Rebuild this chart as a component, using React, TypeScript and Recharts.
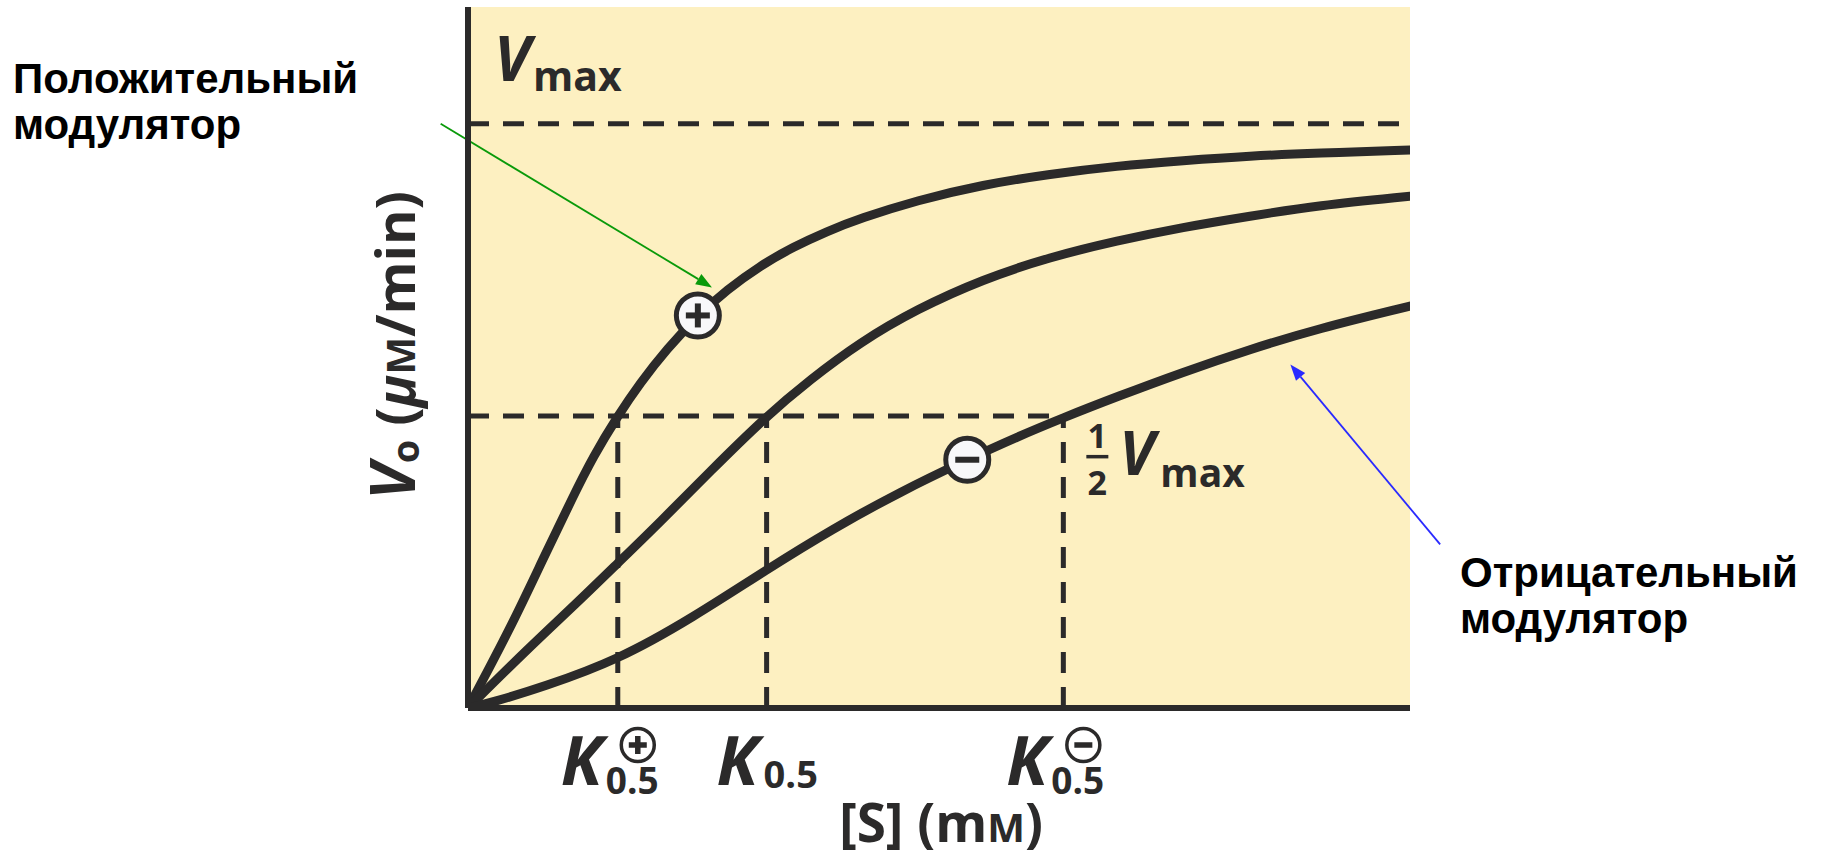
import React from 'react'
import {
  ComposedChart, Line, Scatter, XAxis, YAxis, CartesianGrid, ReferenceLine, ReferenceDot,
} from 'recharts'

// [S] in relative units (0..10), V0 as a fraction of Vmax
const sPositive = [0, 0.446, 0.796, 1.115, 1.327, 1.59, 1.826, 2.113, 2.442, 2.749, 3.1, 3.45, 3.811, 4.161, 4.766, 5.467, 6.178, 6.89, 7.59, 8.301, 9.013, 10]
const vPositive = [0, 0.135, 0.255, 0.362, 0.43, 0.5, 0.556, 0.615, 0.672, 0.716, 0.757, 0.789, 0.816, 0.838, 0.869, 0.896, 0.914, 0.928, 0.937, 0.945, 0.95, 0.955]

const sNone = [0, 0.626, 1.157, 1.59, 2.038, 2.569, 3.17, 3.631, 4.161, 4.766, 5.467, 6.178, 6.89, 7.59, 8.301, 9.013, 10]
const vNone = [0, 0.1, 0.18, 0.248, 0.318, 0.405, 0.5, 0.562, 0.626, 0.683, 0.734, 0.772, 0.8, 0.823, 0.842, 0.86, 0.876]

const sNegative = [0, 0.265, 0.796, 1.59, 2.389, 3.17, 3.875, 4.586, 5.297, 5.828, 6.32, 6.89, 7.59, 8.301, 9.013, 10]
const vNegative = [0, 0.01, 0.036, 0.082, 0.155, 0.237, 0.307, 0.37, 0.425, 0.464, 0.497, 0.533, 0.575, 0.614, 0.649, 0.688]

const kPlus = 1.59
const kHalf = 3.17
const kMinus = 6.32
const kTicks = [kPlus, kHalf, kMinus]

const vMax = 1
const halfVmax = 0.5

const plusMarker = [{ x: 2.44, y: 0.672 }]
const minusMarker = [{ x: 5.3, y: 0.425 }]

// annotation arrows, [start, end] in chart units
const greenArrow = [{ x: -0.29, y: 1.0 }, { x: 2.59, y: 0.72 }]
const blueArrow = [{ x: 10.32, y: 0.28 }, { x: 8.73, y: 0.588 }]

const toPoints = (s: number[], v: number[]) => s.map((x, i) => ({ x, y: v[i] }))

const INK = '#2b2a2a'
const PAPER = '#fdf0c1'
const FONT = "'Open Sans', 'DejaVu Sans', sans-serif"
const RU_FONT = "'Liberation Sans', Arial, sans-serif"

function Sign({ cx, cy, sign, arm, thick }: any) {
  return (
    <g>
      <rect x={cx - arm} y={cy - thick / 2} width={arm * 2} height={thick} fill={INK} />
      {sign === '+' && <rect x={cx - thick / 2} y={cy - arm} width={thick} height={arm * 2} fill={INK} />}
    </g>
  )
}

function CurveMarker(sign: string) {
  return (props: any) => (
    <g>
      <circle cx={props.cx} cy={props.cy} r={21.5} fill="#f8f8fa" stroke={INK} strokeWidth={5} />
      <Sign cx={props.cx} cy={props.cy} sign={sign} arm={12} thick={6} />
    </g>
  )
}

function KTick(props: any) {
  const { x, y, payload } = props
  const v = payload.value
  const mark = v === kPlus ? '+' : v === kMinus ? '-' : ''
  if (!mark) {
    return (
      <g fill={INK} fontFamily={FONT} fontWeight={700}>
        <text x={x - 50} y={y + 77} fontSize={68} fontStyle="italic">K</text>
        <text x={x - 3} y={y + 80} fontSize={38}>0.5</text>
      </g>
    )
  }
  return (
    <g fill={INK} fontFamily={FONT} fontWeight={700}>
      <text x={x - 57} y={y + 77} fontSize={68} fontStyle="italic">K</text>
      <text x={x - 12} y={y + 86} fontSize={37}>0.5</text>
      <circle cx={x + 20} cy={y + 37} r={16.5} fill="none" stroke={INK} strokeWidth={3.5} />
      <Sign cx={x + 20} cy={y + 37} sign={mark} arm={9} thick={5.5} />
    </g>
  )
}

function XTitle({ viewBox }: any) {
  const cx = viewBox.x + viewBox.width / 2 + 2
  return (
    <text x={cx} y={viewBox.y + 134} textAnchor="middle" fill={INK} fontFamily={FONT} fontWeight={700} fontSize={53}>
      [S] (m<tspan fontSize={40}>M</tspan>)
    </text>
  )
}

function YTitle({ viewBox }: any) {
  const bx = viewBox.x + viewBox.width - 53
  const cy = viewBox.y + viewBox.height / 2 - 12
  return (
    <text x={bx} y={cy} transform={`rotate(-90, ${bx}, ${cy})`} textAnchor="middle" fill={INK}
      fontFamily={FONT} fontWeight={700} fontSize={54}>
      <tspan fontStyle="italic" fontSize={62}>V</tspan>
      <tspan fontSize={38} dy={4}>o</tspan>
      <tspan dy={-4}> (</tspan>
      <tspan fontStyle="italic">μ</tspan>
      <tspan fontSize={40}>M</tspan>/min)
    </text>
  )
}

function VmaxLabel({ cx, cy }: any) {
  return (
    <g fill={INK} fontFamily={FONT} fontWeight={700}>
      <text x={cx + 26} y={cy - 43} fontSize={62} fontStyle="italic">V</text>
      <text x={cx + 65} y={cy - 33} fontSize={41}>max</text>
    </g>
  )
}

function HalfVmaxLabel({ cx, cy }: any) {
  return (
    <g fill={INK} fontFamily={FONT} fontWeight={700}>
      <text x={cx + 34} y={cy + 32} fontSize={34} textAnchor="middle">1</text>
      <rect x={cx + 23} y={cy + 39} width={22} height={3.5} />
      <text x={cx + 34} y={cy + 79} fontSize={34} textAnchor="middle">2</text>
      <text x={cx + 56} y={cy + 59} fontSize={60} fontStyle="italic">V</text>
      <text x={cx + 97} y={cy + 71} fontSize={39}>max</text>
    </g>
  )
}

function Arrow(props: any) {
  const { x1, y1, x2, y2, stroke } = props
  const a = Math.atan2(y2 - y1, x2 - x1)
  const len = 16
  const w = 6
  const bx = x2 - len * Math.cos(a)
  const by = y2 - len * Math.sin(a)
  const px = -Math.sin(a) * w
  const py = Math.cos(a) * w
  return (
    <g>
      <line x1={x1} y1={y1} x2={bx} y2={by} stroke={stroke} strokeWidth={1.8} />
      <polygon points={`${x2},${y2} ${bx + px},${by + py} ${bx - px},${by - py}`} fill={stroke} />
    </g>
  )
}

const dash = { stroke: INK, strokeWidth: 5, strokeDasharray: '21 14', ifOverflow: 'visible' as const }

export default function App() {
  return (
    <div style={{ position: 'absolute', left: 0, top: 0, width: 1821, height: 858, background: '#fff' }}>
      <ComposedChart width={1821} height={858} margin={{ top: 7, right: 411, bottom: 0, left: 0 }}>
        <CartesianGrid horizontal={false} vertical={false} fill={PAPER} />
        <XAxis type="number" dataKey="x" domain={[0, 10]} allowDataOverflow ticks={kTicks} interval={0}
          height={150} tickSize={0} tickMargin={0} tickLine={false} tick={<KTick />}
          axisLine={{ stroke: INK, strokeWidth: 6 }} label={<XTitle />} />
        <YAxis type="number" dataKey="y" domain={[0, 1.2]} allowDataOverflow width={468} tick={false}
          tickLine={false} axisLine={{ stroke: INK, strokeWidth: 6 }} label={<YTitle />} />

        <ReferenceLine y={vMax} {...dash} />
        <ReferenceLine segment={[{ x: 0, y: halfVmax }, { x: kMinus, y: halfVmax }]} {...dash} />
        <ReferenceLine segment={[{ x: kPlus, y: 0 }, { x: kPlus, y: halfVmax }]} {...dash} />
        <ReferenceLine segment={[{ x: kHalf, y: 0 }, { x: kHalf, y: halfVmax }]} {...dash} />
        <ReferenceLine segment={[{ x: kMinus, y: 0 }, { x: kMinus, y: halfVmax }]} {...dash} />

        <Line data={toPoints(sPositive, vPositive)} dataKey="y" type="basis" stroke={INK} strokeWidth={9}
          strokeLinecap="round" dot={false} activeDot={false} isAnimationActive={false} />
        <Line data={toPoints(sNone, vNone)} dataKey="y" type="basis" stroke={INK} strokeWidth={9}
          strokeLinecap="round" dot={false} activeDot={false} isAnimationActive={false} />
        <Line data={toPoints(sNegative, vNegative)} dataKey="y" type="basis" stroke={INK} strokeWidth={9}
          strokeLinecap="round" dot={false} activeDot={false} isAnimationActive={false} />

        <ReferenceDot x={0} y={vMax} r={0} ifOverflow="visible" shape={(p: any) => <VmaxLabel {...p} />} />
        <ReferenceDot x={kMinus} y={halfVmax} r={0} ifOverflow="visible" shape={(p: any) => <HalfVmaxLabel {...p} />} />

        <ReferenceLine segment={greenArrow} stroke="#0a9a0a" ifOverflow="visible" shape={(p: any) => <Arrow {...p} />} />
        <ReferenceLine segment={blueArrow} stroke="#2a2aff" ifOverflow="visible" shape={(p: any) => <Arrow {...p} />} />

        <Scatter data={plusMarker} dataKey="y" shape={CurveMarker('+')} isAnimationActive={false} />
        <Scatter data={minusMarker} dataKey="y" shape={CurveMarker('-')} isAnimationActive={false} />
      </ComposedChart>

      <div style={{ position: 'absolute', left: 13, top: 56, fontFamily: RU_FONT, fontWeight: 700, fontSize: 42, lineHeight: '46px', color: '#000' }}>
        Положительный<br />модулятор
      </div>
      <div style={{ position: 'absolute', left: 1460, top: 550, fontFamily: RU_FONT, fontWeight: 700, fontSize: 42, lineHeight: '46px', color: '#000' }}>
        Отрицательный<br />модулятор
      </div>
    </div>
  )
}
